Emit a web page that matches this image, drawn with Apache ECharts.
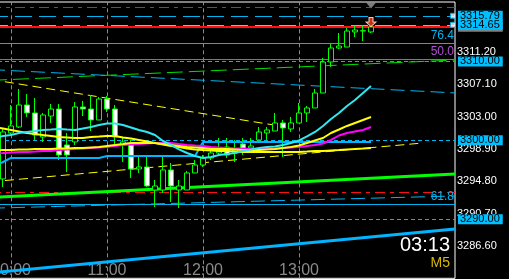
<!DOCTYPE html>
<html><head><meta charset="utf-8">
<script src="https://cdn.jsdelivr.net/npm/echarts@6/dist/echarts.min.js"></script>
<style>html,body{margin:0;padding:0;background:#000;}#c{width:509px;height:279px;}</style>
</head><body><div id="c"></div>
<script>
// ---------- data ----------
const categories = ['09:50','09:55','10:00','10:05','10:10','10:15','10:20','10:25','10:30','10:35','10:40','10:45','10:50','10:55',
'11:00','11:05','11:10','11:15','11:20','11:25','11:30','11:35','11:40','11:45','11:50','11:55',
'12:00','12:05','12:10','12:15','12:20','12:25','12:30','12:35','12:40','12:45','12:50','12:55',
'13:00','13:05','13:10','13:15','13:20','13:25','13:30','13:35','13:40','13:45','13:50','13:55',
'14:00','14:05','14:10','14:15','14:20','14:25','14:30','14:35'];
const hourLabels = ['10:00','11:00','12:00','13:00'];
// [open, close, low, high]
const candles = ['-',
[3295.10,3301.06,3294.08,3301.56],[3300.93,3301.82,3300.68,3304.48],[3301.69,3304.48,3301.56,3306.51],[3304.48,3303.47,3302.96,3305.87],
[3303.47,3300.68,3300.04,3305.37],[3300.42,3303.21,3299.79,3303.47],[3303.08,3303.97,3302.20,3304.61],[3303.97,3298.14,3297.50,3304.61],
[3299.41,3298.14,3295.98,3300.93],[3299.79,3304.23,3299.41,3304.86],[3304.23,3303.97,3303.08,3304.99],[3303.97,3302.58,3301.18,3305.75],
[3302.58,3305.24,3302.58,3305.49],[3305.24,3303.97,3303.59,3305.62],[3303.97,3300.42,3299.41,3304.48],[3299.41,3299.79,3297.25,3300.29],
[3299.41,3296.36,3295.22,3300.04],[3296.36,3296.62,3295.86,3298.14],[3296.62,3294.21,3294.08,3298.14],[3293.70,3294.21,3291.55,3294.97],
[3293.70,3296.24,3293.32,3298.14],[3296.24,3294.21,3292.18,3297.12],[3293.70,3294.21,3291.42,3294.97],[3293.70,3295.86,3293.70,3296.11],
[3295.86,3296.87,3295.86,3297.50],[3296.87,3297.76,3296.62,3298.14],[3297.76,3298.39,3297.50,3299.03],[3298.39,3299.03,3298.14,3300.29],
[3299.15,3298.14,3297.76,3300.29],[3298.39,3298.77,3297.25,3300.04],[3299.53,3298.90,3298.14,3300.29],[3299.03,3299.28,3298.39,3300.29],
[3300.04,3301.06,3300.04,3301.69],[3300.93,3301.31,3300.04,3301.69],[3301.18,3302.20,3301.18,3303.47],[3302.20,3301.56,3297.89,3302.58],
[3301.44,3302.20,3301.06,3302.96],[3302.20,3303.47,3302.20,3304.73],[3303.47,3304.10,3302.32,3304.35],[3304.10,3306.00,3304.10,3306.51],
[3306.00,3309.93,3306.00,3310.44],[3309.93,3311.71,3309.30,3312.21],[3311.71,3311.96,3311.58,3313.61],[3311.83,3313.86,3311.83,3314.24],
[3313.74,3313.99,3313.10,3314.49],[3313.86,3313.90,3312.59,3314.62],[3313.74,3314.37,3313.61,3314.37]];
const cyanMA = [3300.29,3300.55,3300.67,3300.93,3301.06,3301.18,3301.31,3301.37,3301.44,3301.37,3301.31,3301.50,3301.69,3301.94,3302.13,3302.13,
3301.94,3301.63,3301.31,3301.06,3300.67,3299.91,3299.41,3298.84,3298.39,3298.01,3297.76,3297.89,3298.14,3298.27,3298.39,3298.65,
3298.84,3299.03,3299.15,3299.22,3299.41,3299.66,3299.98,3300.49,3301.06,3301.82,3302.70,3303.46,3304.35,3305.11,3306.00,3306.89];
const yellowFast = [3298.77,3298.77,3298.77,3298.84,3298.84,3298.90,3298.90,3298.90,3298.96,3298.96,3299.03,3299.03,3299.09,3299.15,3299.28,3299.41,
3299.53,3299.66,3299.66,3299.66,3299.66,3299.53,3299.41,3299.28,3299.15,3299.09,3299.03,3298.90,3298.90,3298.90,3298.84,3298.77,
3298.77,3298.77,3298.84,3298.90,3299.03,3299.15,3299.34,3299.66,3299.98,3300.29,3300.93,3301.37,3301.82,3302.20,3302.58,3302.96];
const yellowSlow = [3301.63,3301.50,3301.31,3301.12,3300.93,3300.80,3300.67,3300.55,3300.42,3300.36,3300.29,3300.29,3300.42,3300.48,3300.55,3300.55,
3300.36,3300.23,3300.04,3299.85,3299.66,3299.47,3299.28,3299.15,3298.96,3298.84,3298.77,3298.71,3298.65,3298.65,3298.58,3298.52,
3298.52,3298.52,3298.52,3298.52,3298.52,3298.52,3298.52,3298.58,3298.65,3298.65,3298.71,3298.77,3298.84,3298.90,3298.96,3299.03];
const magentaMA = [3298.33,3298.39,3298.46,3298.52,3298.52,3298.58,3298.65,3298.65,3298.77,3298.84,3298.90,3298.96,3299.03,3299.09,3299.15,3299.28,
3299.41,3299.47,3299.53,3299.60,3299.66,3299.66,3299.66,3299.53,3299.41,3299.34,3299.28,3299.15,3299.09,3299.03,3298.96,3298.96,
3298.90,3298.90,3298.90,3298.96,3299.03,3299.09,3299.15,3299.28,3299.41,3299.60,3300.04,3300.61,3300.93,3301.12,3301.31,3301.69];
const stepLine = [3296.74,3297.25,3297.76,3297.76,3297.76,3297.76,3297.76,3297.76,3297.76,3297.76,3297.76,3297.76,3297.76,3297.76,
3298.01,3298.01,3298.01,3298.01,3298.01,3298.01,3298.01,3298.01,3298.01,3298.01,3298.01,3298.01,
3299.79,3299.79,3299.79,3299.79,3299.79,3299.79,3299.79,3299.79,3299.79,3299.79,3299.79,3299.79,3299.79,3299.79,3299.79,
3299.79,3299.79,3299.79,3299.79,3299.79,3299.79,3299.79];
// trend lines: [bar index, price]
const trendYellowDown = [[-0.5,3307.71],[35.6,3301.82]];
const trendYellowUp = [[-0.5,3294.74],[53.5,3299.66]];
const trendGreen = [[-0.5,3292.76],[57.5,3295.72]];
const trendBlueLow = [[-0.5,3283.19],[57.5,3288.74]];
const trendGreenDash = [[-0.5,3307.60],[57.5,3310.18]];
const trendBlueDashHi = [[-0.5,3308.97],[57.5,3306.01]];
const trendBlueDashLo = [[-0.5,3291.39],[57.5,3292.94]];
// horizontal levels
const priceLevels = [3315.79, 3314.65, 3310.00, 3300.00, 3290.00];
const priceLevelLabels = ['3315.79','3314.65','3310.00','3300.00','3290.00'];
const redLevels = [3316.91, 3314.45, 3293.45];
const fiboLevels = [3312.34, 3310.31, 3291.93];
const fiboLabels = ['76.4','50.0','61.8'];
const yTickLabels = ['3311.20','3307.10','3303.00','3298.90','3294.80','3290.70','3286.60'];
const yMin = 3282.5, yMax = 3317.54, yStep = 4.1;
const arrowPoint = ['13:45', 3315.0];
const triPoint = ['13:45', 3317.1];
const endSquares = [[57.25,3315.79],[57.25,3314.65]];
const timerText = '03:13';
const periodText = 'M5';

// ---------- chart ----------
const FONT = '"Liberation Sans", Arial, sans-serif';
const chart = echarts.init(document.getElementById('c'), null, {renderer:'canvas', width:509, height:279});
const CY = '#00b4f0', AQUA = '#30e8f0';
const tickSet = new Set(yTickLabels);

const hLines = [];
hLines.push({yAxis:redLevels[0], lineStyle:{color:'#ff1010', width:1, type:[10,5,4,5]}});
hLines.push({yAxis:redLevels[1], lineStyle:{color:'#ff1010', width:2, type:'solid'}});
hLines.push({yAxis:redLevels[2], lineStyle:{color:'#ff1010', width:1, type:[10,5,4,5]}});
const fiboColors = [CY, '#b050d0', CY];
fiboLevels.forEach((v,i)=>hLines.push({yAxis:v, lineStyle:{color:fiboColors[i], width:1, type:'solid'},
  label:{show:true, position:'insideEndTop', formatter:fiboLabels[i], color:fiboColors[i], fontSize:12, fontFamily:FONT, distance:1}}));
const lvlStyles = [
  {color:CY, type:[17,7]}, {color:'#60c8ff', type:[17,7]}, {color:CY, type:[4,3]}, {color:CY, type:[4,3]}, {color:CY, type:[4,3]}];
priceLevels.forEach((v,i)=>hLines.push({yAxis:v, lineStyle:{color:lvlStyles[i].color, width:1, type:lvlStyles[i].type},
  label:{show:true, position:'end', formatter:priceLevelLabels[i], backgroundColor:'#00bfff', color:'#000',
    fontSize:11, fontFamily:FONT, lineHeight:10, padding:[0,3,0,2], distance:3,
    borderColor: i===1 ? '#808080' : 'transparent', borderWidth: 0, shadowColor: i===1 ? '#808080' : 'transparent', shadowOffsetY: i===1 ? 2 : 0}}));
const vLines = hourLabels.map(h=>({xAxis:h, lineStyle:{color:'#8a8a8a', width:1, type:[4,3]}}));

function trend(data, color, width, type){
  return {type:'line', xAxisIndex:1, data:data, showSymbol:false, symbol:'none', silent:true, z:2,
    lineStyle:{color:color, width:width, type:type}};
}
function ma(data, color, width){
  return {type:'line', data:data, showSymbol:false, symbol:'none', silent:true, z:4,
    lineStyle:{color:color, width:width}};
}

const option = {
  backgroundColor:'#000',
  animation:false,
  grid:{left:-9, right:54, top:2, bottom:0.7, show:true, borderColor:'#fff', borderWidth:1, backgroundColor:'#000',
        containLabel:false, outerBoundsMode:'none'},
  xAxis:[
    {type:'category', data:categories, boundaryGap:true, axisLine:{show:false}, axisTick:{show:false}, splitLine:{show:false},
     axisLabel:{inside:true, interval:(i,v)=>hourLabels.includes(v), color:'#8a8a8a', fontSize:16, fontFamily:FONT, margin:0}},
    {type:'value', min:-0.5, max:57.5, show:false}
  ],
  yAxis:{type:'value', position:'right', min:yMin, max:yMax, interval:yStep,
    axisLine:{show:true, lineStyle:{color:'#fff'}}, axisTick:{show:true, length:4, lineStyle:{color:'#fff'}},
    splitLine:{show:false},
    axisLabel:{color:'#fff', fontSize:11, fontFamily:FONT, margin:2,
      formatter:v=>{const s=v.toFixed(2); return tickSet.has(s)?s:'';}}},
  graphic:[
    {type:'text', right:59, top:235, z:10, style:{text:timerText, fill:'#fff', font:'20px '+FONT}},
    {type:'text', right:59, top:256, z:10, style:{text:periodText, fill:'#d8b800', font:'14px '+FONT}}
  ],
  series:[
    {type:'line', data:[], z:1, silent:true,
     markLine:{silent:true, z:1, symbol:['none','none'], label:{show:false}, data:vLines.concat(hLines)}},
    trend(trendBlueDashHi, CY, 1, [14,6]),
    trend(trendGreenDash, '#00e000', 1, [16,6]),
    trend(trendBlueDashLo, CY, 1, [14,6]),
    trend(trendYellowDown, '#ffff00', 1, [9,5]),
    trend(trendYellowUp, '#ffff00', 1, [9,5]),
    trend(trendGreen, '#00ff00', 3, 'solid'),
    trend(trendBlueLow, '#00b4ff', 3, 'solid'),
    {type:'candlestick', data:candles, barWidth:5, z:3,
     itemStyle:{color:'#000', color0:'#fff', borderColor:'#00ff00', borderColor0:'#00ff00', borderWidth:1}},
    ma(stepLine, '#00b4ff', 2),
    ma(yellowSlow, '#ffff00', 2),
    ma(magentaMA, '#ff00ff', 2),
    ma(yellowFast, '#ffff00', 2),
    ma(cyanMA, AQUA, 2),
    {type:'scatter', data:[arrowPoint], z:6, silent:true,
     symbol:'path://M3,0 L7,0 L7,5 L10,5 L5,10 L0,5 L3,5 Z', symbolSize:[10,9],
     itemStyle:{color:'#ff3a10', borderColor:'#fff', borderWidth:1}},
    {type:'scatter', data:[triPoint], z:6, silent:true, symbol:'triangle', symbolRotate:180, symbolSize:[10,6],
     itemStyle:{color:'#9a9a9a'}},
    {type:'scatter', xAxisIndex:1, data:endSquares, z:6, silent:true, symbol:'rect', symbolSize:5,
     itemStyle:{color:'#fff', borderColor:CY, borderWidth:1}}
  ]
};
chart.setOption(option);
</script></body></html>
